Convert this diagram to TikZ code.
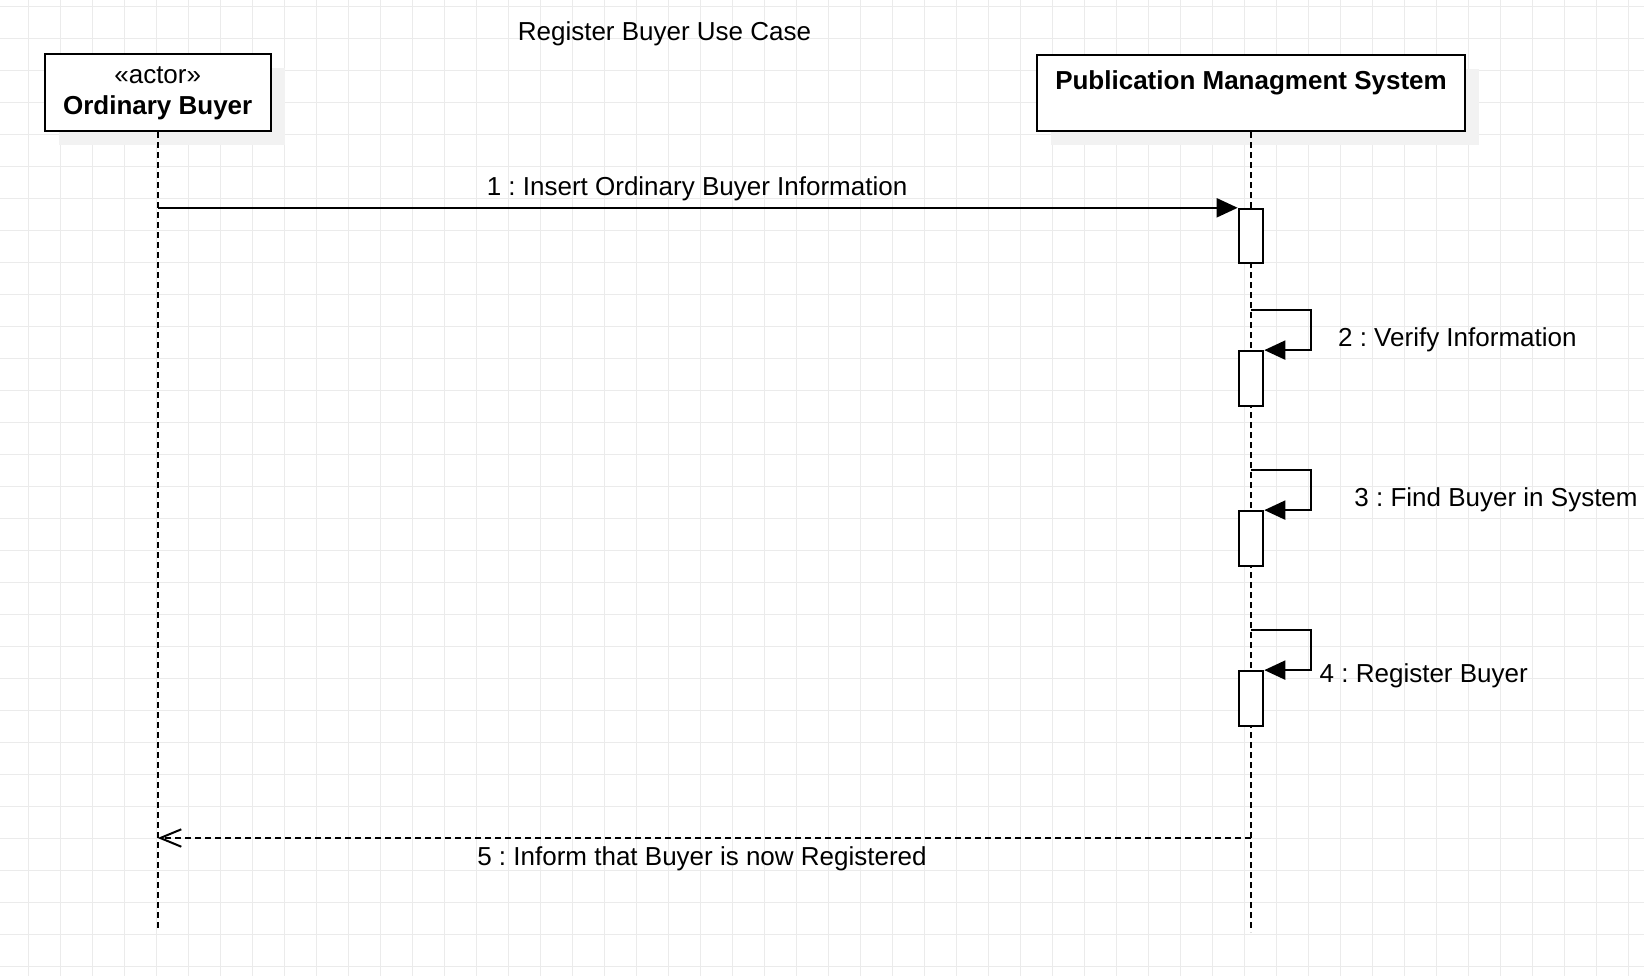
\documentclass[tikz,border=0pt]{standalone}
\usepackage{fontspec}
\setmainfont{Liberation Sans}
\usetikzlibrary{arrows.meta,shadows}
\definecolor{gridc}{HTML}{EBEBEB}
\definecolor{shadc}{HTML}{F2F2F2}
\frenchspacing
\tikzset{
  txt/.style={inner sep=0pt, font=\fontsize{13}{15.5}\selectfont},
  btxt/.style={inner sep=0pt, font=\fontsize{13}{15.5}\selectfont\bfseries},
  objbox/.style={draw=black, line width=1pt, fill=white, inner sep=0pt,
    general shadow={fill=shadc, shadow xshift=7pt, shadow yshift=-7pt}},
  actbox/.style={draw=black, line width=1pt, fill=white, inner sep=0pt,
    minimum width=12.3pt, minimum height=27.2pt},
  lifeline/.style={line width=1pt, dash pattern=on 3pt off 2pt},
  msg/.style={line width=1pt, -{Triangle[length=10.5pt,width=9.5pt]}},
  retmsg/.style={line width=1pt, dash pattern=on 3pt off 2pt,
    -{Straight Barb[length=10.5pt,width=8.7pt]}},
}
\begin{document}
\begin{tikzpicture}[x=0.5pt,y=-0.5pt]
\useasboundingbox (0,0) rectangle (1644,976);
\fill[white] (0,0) rectangle (1644,976);
% grid
\foreach \i in {0,...,50} \draw[gridc, line width=0.6pt] (28.5+32*\i,0) -- (28.5+32*\i,976);
\foreach \j in {0,...,30} \draw[gridc, line width=0.6pt] (0,6.5+32*\j) -- (1644,6.5+32*\j);

% title
\node[txt, anchor=base] (title) at (664.5,40) {Register Buyer Use Case};

% participants
\node[objbox, minimum width=113pt, minimum height=38.5pt] (buyer) at (157.7,92.8) {};
\node[txt, anchor=base] (buyerst) at (157.7,83.3) {«actor»};
\node[btxt, anchor=base] (buyername) at (157.7,114.3) {Ordinary Buyer};

\node[objbox, minimum width=214pt, minimum height=38pt] (sys) at (1251,93) {};
\node[btxt, anchor=base] (systitle) at (1251,89) {Publication Managment System};

% lifeline ends
\coordinate (buyerend) at (157.7,932);
\coordinate (sysend) at (1251,932);
\draw[lifeline] (buyer.south) -- (buyerend);
\draw[lifeline] (sys.south) -- (sysend);

% activation boxes
\node[actbox] (act1) at (1251,236) {};
\node[actbox] (act2) at (1251,378.3) {};
\node[actbox] (act3) at (1251,538.3) {};
\node[actbox] (act4) at (1251,698.3) {};

% message 1
\coordinate (m1) at (buyer.south |- act1.north);
\draw[msg] (m1) -- (act1.north west);
\node[txt, anchor=base] (l1) at (697,195.7) {1 : Insert Ordinary Buyer Information};

% self messages
\coordinate (m2) at (1251,310);
\draw[msg] (m2) -- ++(60,0) |- (act2.north east);
\node[txt, anchor=base west] (l2) at (1337.7,346.7) {2 : Verify Information};

\coordinate (m3) at (1251,470);
\draw[msg] (m3) -- ++(60,0) |- (act3.north east);
\node[txt, anchor=base west] (l3) at (1354,506.7) {3 : Find Buyer in System};

\coordinate (m4) at (1251,630);
\draw[msg] (m4) -- ++(60,0) |- (act4.north east);
\node[txt, anchor=base west] (l4) at (1319.3,682) {4 : Register Buyer};

% return message 5
\coordinate (r5a) at (1251,838);
\coordinate (r5b) at (157.7,838);
\draw[retmsg] (r5a) -- (r5b);
\node[txt, anchor=base] (l5) at (702,865.7) {5 : Inform that Buyer is now Registered};
\end{tikzpicture}
\end{document}
